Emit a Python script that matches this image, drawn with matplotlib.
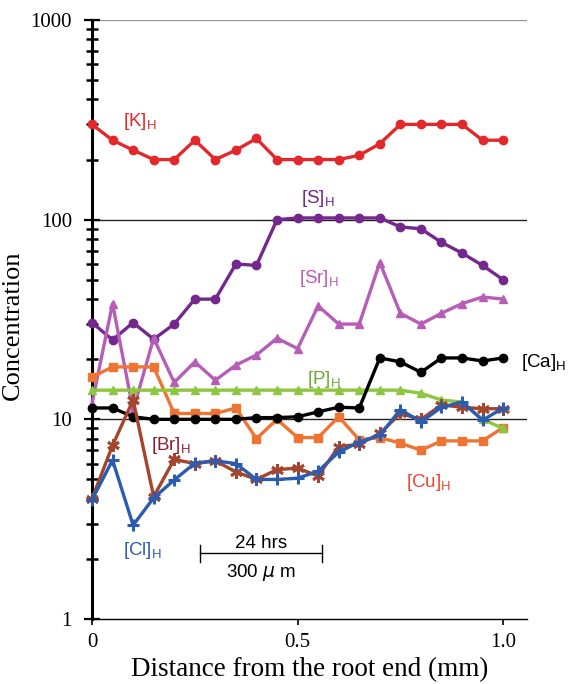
import matplotlib
matplotlib.use("Agg")
import matplotlib.pyplot as plt
from matplotlib.ticker import LogLocator, NullFormatter, FixedLocator

distance = [0, 0.05, 0.1, 0.15, 0.2, 0.25, 0.3, 0.35, 0.4, 0.45, 0.5,
            0.55, 0.6, 0.65, 0.7, 0.75, 0.8, 0.85, 0.9, 0.95, 1.0]

K = [300, 250, 223, 200, 200, 250, 200, 223, 255, 200, 200,
     200, 200, 210, 240, 300, 300, 300, 300, 250, 250]
S = [30.5, 25, 30.5, 25.2, 30, 40, 40, 60, 59, 100, 102,
     102, 102, 102, 102, 92, 90, 77, 68, 59, 50]
Sr = [12, 38, 11.1, 25.5, 15.3, 19.4, 15.7, 18.7, 21, 25.5, 22.6,
      37, 30, 30, 61, 34, 30, 34, 38, 41, 40]
P = [14, 14, 14, 14, 14, 14, 14, 14, 14, 14, 14,
     14, 14, 14, 14, 14, 13.5, 12.5, 12.2, 10, 9]
Ca = [11.4, 11.4, 10.3, 10, 10, 10, 10, 10, 10.2, 10.2, 10.3,
      10.9, 11.5, 11.4, 20.3, 19.4, 17.2, 20.3, 20.3, 19.6, 20.3]
Cu = [16.3, 18.3, 18.3, 18.3, 10.7, 10.7, 10.7, 11.4, 8.0, 10, 8.1,
      8.1, 10.3, 7.9, 8.1, 7.6, 7.0, 7.8, 7.8, 7.8, 9.1]
Br = [4, 7.4, 12.5, 4.1, 6.3, 6, 6.2, 5.45, 5, 5.6, 5.7,
      5.2, 7.3, 7.5, 8.5, 10.7, 10, 11.8, 11.5, 11.3, 11.3]
Cl = [3.95, 6.25, 2.95, 4.04, 4.97, 6.03, 6.2, 6, 5, 5, 5.07,
      5.5, 6.85, 7.7, 8.3, 11.2, 9.7, 11.5, 12.2, 9.9, 11.4]

x_ticks = [0, 0.5, 1.0]
x_ticklabels = ["0", "0.5", "1.0"]
y_ticks = [1, 10, 100, 1000]
y_ticklabels = ["1", "10", "100", "1000"]

plt.rcParams['font.family'] = ['Liberation Sans', 'DejaVu Sans']

fig = plt.figure(figsize=(5.72, 6.84), dpi=100)
ax = fig.add_axes([92/572, 1-619/684, (527-92)/572, (619-20)/684])
ax.set_yscale('log')
ax.set_ylim(1, 1000)
ax.set_xlim(0, 1.058)

# gridlines
ax.axhline(1000, color='#9a9a9a', lw=1.0, zorder=1)
ax.axhline(100, color='#222222', lw=1.0, zorder=1)
ax.axhline(10, color='#222222', lw=1.0, zorder=1)

series = [
    (K, '#E3282C', 'o', 6, 1),
    (S, '#74278C', 'o', 6, 1),
    (Sr, '#B65DB8', '^', 6, 1),
    (Cu, '#EE7433', 's', 6, 1),
    (P, '#8DC63F', '^', 6, 1),
    (Ca, '#000000', 'o', 6, 1),
    (Br, '#A5452C', (6, 2, 0), 9, 2),
    (Cl, '#2C5CB0', '+', 9, 2.2),
]
for vals, col, mk, ms, mew in series:
    ax.plot(distance, vals, color=col, lw=2.4, marker=mk, markersize=ms,
            markeredgewidth=mew, markeredgecolor=col, zorder=3, clip_on=False)

# labels
lab_kw = dict(fontsize=13.5, va='baseline', ha='left', zorder=5)
ax.text(0.075, 294, r"[K]$_\mathregular{H}$", color='#E3282C', **lab_kw)
ax.text(0.508, 121, r"[S]$_\mathregular{H}$", color='#74278C', **lab_kw)
ax.text(0.504, 48.2, r"[Sr]$_\mathregular{H}$", color='#B65DB8', **lab_kw)
ax.text(1.044, 18.3, r"[Ca]$_\mathregular{H}$", color='#000000', **lab_kw)
ax.text(0.523, 15.0, r"[P]$_\mathregular{H}$", color='#6EA83A', **lab_kw)
ax.text(0.143, 7.0, r"[Br]$_\mathregular{H}$", color='#8B2232', **lab_kw)
ax.text(0.764, 4.58, r"[Cu]$_\mathregular{H}$", color='#E8472D', **lab_kw)
ax.text(0.075, 2.09, r"[Cl]$_\mathregular{H}$", color='#2C5CB0', **lab_kw)

# scale bar
ax.plot([0.263, 0.56], [2.14, 2.14], color='black', lw=1.0)
ax.plot([0.263, 0.263], [1.93, 2.35], color='black', lw=1.0)
ax.plot([0.56, 0.56], [1.93, 2.35], color='black', lw=1.0)
ax.text(0.4115, 2.27, "24 hrs", fontsize=13.5, ha='center', va='baseline')
ax.text(0.4115, 1.62, r"300 $\mathit{\mu}$ m", fontsize=13.5, ha='center',
        va='baseline')

# axes styling
for s in ['top', 'right']:
    ax.spines[s].set_visible(False)
ax.spines['left'].set_linewidth(2.2)
ax.spines['bottom'].set_linewidth(1.0)

ax.yaxis.set_major_locator(FixedLocator(y_ticks))
ax.set_yticklabels(y_ticklabels)
ax.yaxis.set_minor_locator(LogLocator(base=10, subs=range(2, 10)))
ax.yaxis.set_minor_formatter(NullFormatter())
ax.tick_params(axis='y', which='major', direction='inout', length=11, width=1.6,
               labelsize=15, pad=9)
ax.tick_params(axis='y', which='minor', direction='inout', length=8, width=1.8)
ax.set_xticks(x_ticks)
ax.set_xticklabels(x_ticklabels)
ax.tick_params(axis='x', which='major', direction='out', length=4, width=1.2,
               labelsize=15, pad=6)
for lbl in ax.get_xticklabels() + ax.get_yticklabels():
    lbl.set_fontfamily('Liberation Serif')

ax.set_ylabel("Concentration", fontsize=19, family='Liberation Serif')
ax.yaxis.set_label_coords((24 - 92) / 435, 0.491)
ax.set_xlabel("Distance from the root end (mm)", fontsize=19.5,
              family='Liberation Serif', labelpad=4)

fig.savefig("out.png", dpi=100)
